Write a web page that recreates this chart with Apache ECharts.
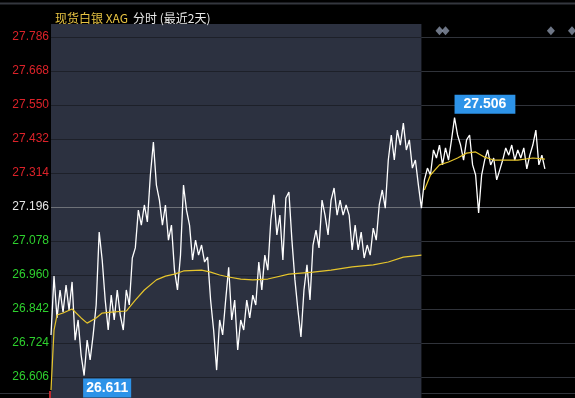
<!DOCTYPE html>
<html>
<head>
<meta charset="utf-8">
<script src="https://cdn.jsdelivr.net/npm/echarts@6/dist/echarts.min.js"></script>
<style>
html,body{margin:0;padding:0;background:#000;}
#c{width:575px;height:398px;}
</style>
</head>
<body>
<div id="c"></div>
<script>
// ---- data ----
const yTickLabels = ['26.606','26.724','26.842','26.960','27.078','27.196','27.314','27.432','27.550','27.668','27.786'];
const prevClose = 27.196;
const totalSlots = 175;
const categories = [];
for (let i = 0; i < totalSlots; i++) categories.push(String(i));

const day1Price = [
26.752,26.956,26.811,26.908,26.831,26.925,26.838,26.936,26.734,26.804,
26.682,26.611,26.734,26.665,26.752,26.856,27.109,27.012,26.873,26.769,
26.890,26.804,26.908,26.821,26.769,26.908,26.856,27.019,27.054,27.185,
27.133,27.203,27.144,27.307,27.421,27.272,27.220,27.133,27.203,27.081,
27.133,26.977,26.908,27.029,27.272,27.185,27.133,27.012,27.081,27.029,
27.064,27.005,27.022,26.873,26.769,26.630,26.804,26.752,26.873,26.987,
26.804,26.873,26.700,26.804,26.769,26.873,26.811,26.890,26.856,27.005,
26.908,27.029,26.977,27.151,27.238,27.099,27.168,27.012,27.227,27.248,
27.081,26.943,26.838,26.745,26.908,26.995,26.873,27.064,27.116,27.054,
27.220,27.168,27.099,27.220,27.262,27.168,27.220,27.168,27.203,27.168,
27.047,27.133,27.047,27.109,27.019,27.064,27.029,27.123,27.081,27.203,
27.255,27.192,27.359,27.446,27.359,27.463,27.411,27.487,27.394,27.429,
27.331,27.359,27.272,27.192
];
const day2Price = [
27.290,27.331,27.307,27.394,27.366,27.411,27.342,27.401,27.359,27.429,
27.506,27.446,27.411,27.359,27.429,27.446,27.342,27.307,27.175,27.307,
27.359,27.394,27.342,27.366,27.290,27.324,27.359,27.401,27.376,27.411,
27.359,27.394,27.366,27.401,27.328,27.376,27.411,27.463,27.342,27.376,
27.328
];
const maDay1Idx = [0,1,2,4,7,10,12,15,17,20,25,28,31,35,38,41,44,50,53,56,59,63,67,72,79,87,93,100,107,112,117,123];
const maDay1Val = [26.561,26.769,26.821,26.828,26.842,26.811,26.793,26.811,26.828,26.831,26.835,26.873,26.908,26.943,26.956,26.963,26.974,26.977,26.970,26.960,26.953,26.946,26.943,26.946,26.963,26.970,26.977,26.988,26.995,27.005,27.022,27.029];
const maDay2Idx = [124,126,129,132,135,138,141,144,147,155,160,164];
const maDay2Val = [27.255,27.307,27.342,27.352,27.366,27.383,27.387,27.369,27.359,27.359,27.366,27.362];
const eventIdx = [129,131,166,173];
const eventLevel = 27.808;

// ---- build ----
const price = day1Price.concat(day2Price);
const ma1 = maDay1Idx.map((x, k) => [x, maDay1Val[k]]);
const ma2 = maDay2Idx.map((x, k) => [x, maDay2Val[k]]);
const events = eventIdx.map(x => [x, eventLevel]);

const yMin = parseFloat(yTickLabels[0]);
const yMax = parseFloat(yTickLabels[yTickLabels.length - 1]);
const yInt = parseFloat((parseFloat(yTickLabels[1]) - yMin).toFixed(3));
const pcIndex = yTickLabels.indexOf(prevClose.toFixed(3));
const FONT = "'Liberation Sans', Arial, sans-serif";

function lineColors(base, hi) {
  return yTickLabels.map((t, i) => i === pcIndex ? hi : base);
}

const chart = echarts.init(document.getElementById('c'), null, {renderer: 'canvas'});
const option = {
  backgroundColor: '#000',
  animation: false,
  title: {
    left: 50, top: 4,
    text: '{a|现货白银 XAG} {b|分时 (最近2天)}',
    textStyle: {
      fontWeight: 'normal',
      rich: {
        a: {color: '#e8c443', fontSize: 12, fontWeight: 'normal', fontFamily: "'Noto Sans CJK SC', sans-serif"},
        b: {color: '#e8e8e8', fontSize: 12, fontWeight: 'normal', fontFamily: "'Noto Sans CJK SC', sans-serif"}
      }
    }
  },
  grid: [
    {left: 51, right: 0, top: 37, bottom: 21, z: 0},
    {left: 51, width: 370, top: 24, bottom: 0, z: 1, show: true, backgroundColor: '#2c3140', borderWidth: 0},
    {left: 51, width: 370, top: 37, bottom: 21, z: 2}
  ],
  xAxis: [0, 1, 2].map(g => ({
    gridIndex: g, type: 'category', data: categories, boundaryGap: false, show: false
  })),
  yAxis: [
    {
      gridIndex: 0, type: 'value', min: yMin, max: yMax, interval: yInt, z: 0,
      axisLine: {show: false}, axisTick: {show: false},
      axisLabel: {
        margin: 2, fontSize: 12, fontFamily: FONT,
        formatter: v => Number(v).toFixed(3),
        color: v => {
          const n = parseFloat(Number(v).toFixed(3));
          if (Math.abs(n - prevClose) < 1e-6) return '#e6e6e6';
          return n > prevClose ? '#dc2229' : '#2ed12e';
        }
      },
      splitLine: {show: true, lineStyle: {color: lineColors('#30333a', '#6e7178'), width: 1}}
    },
    {gridIndex: 1, type: 'value', min: yMin, max: yMax, show: false, z: 1},
    {
      gridIndex: 2, type: 'value', min: yMin, max: yMax, interval: yInt, z: 2,
      axisLine: {show: false}, axisTick: {show: false}, axisLabel: {show: false},
      splitLine: {show: true, lineStyle: {color: lineColors('#1d2029', '#6e7178'), width: 1}}
    }
  ],
  series: [
    {
      name: 'price', type: 'line', xAxisIndex: 0, yAxisIndex: 0, z: 6,
      data: price, showSymbol: false, symbol: 'none', clip: false,
      lineStyle: {color: '#ffffff', width: 1.3},
      markPoint: {
        symbol: 'circle', symbolSize: 0, silent: true,
        label: {
          show: true, formatter: p => Number(p.value).toFixed(3),
          color: '#ffffff', backgroundColor: '#2d93e8',
          fontSize: 14, fontWeight: 'bold', fontFamily: FONT, lineHeight: 15
        },
        data: [
          {type: 'max', label: {position: [0, -23], padding: [2, 9, 2, 9]}},
          {type: 'min', label: {position: [-1, 3], padding: [2, 3, 2, 3]}}
        ]
      }
    },
    {
      name: 'avg1', type: 'line', xAxisIndex: 0, yAxisIndex: 0, z: 7,
      data: ma1, showSymbol: false, symbol: 'none', clip: false,
      lineStyle: {color: '#e6c52c', width: 1.2}
    },
    {
      name: 'avg2', type: 'line', xAxisIndex: 0, yAxisIndex: 0, z: 7,
      data: ma2, showSymbol: false, symbol: 'none', clip: false,
      lineStyle: {color: '#e6c52c', width: 1.2}
    },
    {
      name: 'events', type: 'scatter', xAxisIndex: 0, yAxisIndex: 0, z: 7,
      data: events, symbol: 'diamond', symbolSize: [8, 9], clip: false,
      itemStyle: {color: '#8a93a8'}
    }
  ],
  graphic: [
    {type: 'line', shape: {x1: 0, y1: 3.5, x2: 575, y2: 3.5}, style: {stroke: '#34373e', lineWidth: 2}, z: 10},
    {type: 'line', shape: {x1: 0, y1: 393.5, x2: 50, y2: 393.5}, style: {stroke: '#30333a', lineWidth: 1}, z: 10},
    {id: 'rightBottom', type: 'line', shape: {x1: 422, y1: 393.5, x2: 575, y2: 393.5}, style: {stroke: '#30333a', lineWidth: 1}, z: 10},
    {type: 'rect', shape: {x: 49, y: 391, width: 2, height: 7}, style: {fill: '#c0282e'}, z: 10}
  ]
};
chart.setOption(option);

// panel boundary follows the last slot of day 1
const splitX = chart.convertToPixel({xAxisIndex: 0}, day1Price.length - 1);
const w = splitX - 51;
chart.setOption({
  grid: [{}, {width: w}, {width: w}],
  graphic: [{id: 'rightBottom', shape: {x1: splitX, y1: 393.5, x2: 575, y2: 393.5}}]
});
</script>
</body>
</html>
